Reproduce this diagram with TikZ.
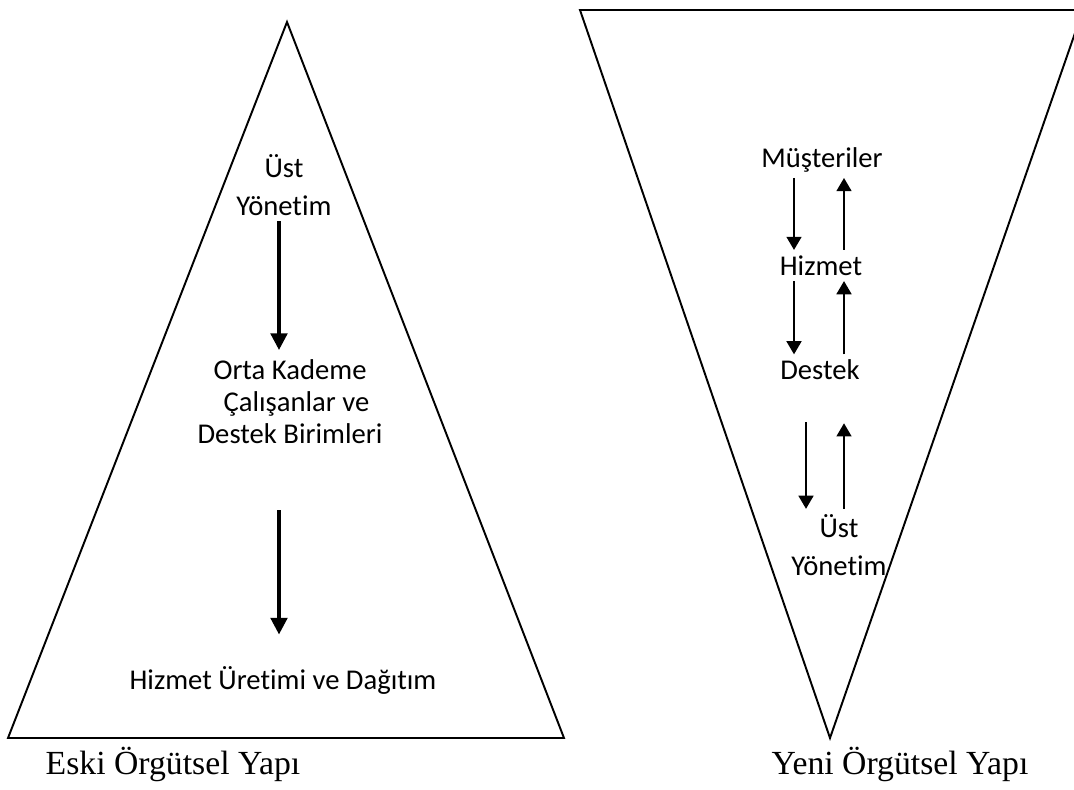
\documentclass[tikz,border=0pt]{standalone}
\usepackage{fontspec}
\usepackage{tikz}
\usetikzlibrary{arrows.meta}
\newfontfamily\calibri{Carlito}[Ligatures=CommonOff]
\newfontfamily\timesnr{Liberation Serif}
\tikzstyle{lbl} =
[
	font=\calibri\fontsize{16.3pt}{21.6pt}\selectfont,
	inner sep=3pt, align=center
]
\tikzstyle{capt} =
[
	font=\timesnr\fontsize{19.2pt}{22pt}\selectfont,
	inner sep=0pt, anchor=base
]
\tikzstyle{tri} = [draw, line width=1.1pt]
\tikzstyle{bigarrow} = [-{Triangle[width=9.5pt,length=9.5pt]}, line width=1.9pt]
\tikzstyle{smallarrow} = [-{Triangle[width=8.5pt,length=7.5pt]}, line width=1.1pt]

\begin{document}
\begin{tikzpicture}[x=0.02cm,y=-0.02cm]
\useasboundingbox (0,0) rectangle (1074,789);
\clip (0,0) rectangle (1074,789);

% old structure
\draw[tri] (287,22) -- (564,738) -- (8,738) -- cycle;
\coordinate (cL) at (279,0);

\node[lbl] (UY) at (284,185) {Üst\\Yönetim};
\node[lbl, font=\calibri\fontsize{16.3pt}{18.2pt}\selectfont] (OK) at (290,402)
	{Orta Kademe\\\hspace*{0.45em}Çalışanlar ve\\Destek Birimleri};
\node[lbl] (HU) at (283,680) {Hizmet Üretimi ve Dağıtım};

\path
	(UY.south -| cL) edge[bigarrow, shorten >=2.5pt] (OK.north -| cL)
	(OK.south -| cL) edge[bigarrow, shorten <=34.5pt, shorten >=14.8pt] (HU.north -| cL);

\node[capt] (eski) at (173,774) {Eski Örgütsel Yapı};

% new structure
\draw[tri] (580,10) -- (1083,10) -- (830,738) -- cycle;
\coordinate (cR1) at (794,0);
\coordinate (cR2) at (844,0);
\coordinate (cR3) at (806,0);

\node[lbl] (M) at (822,160) {Müşteriler};
\node[lbl] (H) at (821,265.5) {Hizmet};
\node[lbl] (D) at (820,370) {Destek};
\node[lbl] (UY2) at (839,545) {Üst\\Yönetim};

\path
	(M.south -| cR1) edge[smallarrow] (H.north -| cR1)
	(H.north -| cR2) edge[smallarrow] (M.south -| cR2)
	(H.south -| cR1) edge[smallarrow] (D.north -| cR1)
	(D.north -| cR2) edge[smallarrow] (H.south -| cR2)
	(D.south -| cR3) edge[smallarrow, shorten <=20.9pt] (UY2.north -| cR3)
	(UY2.north -| cR2) edge[smallarrow, shorten >=21.4pt] (D.south -| cR2);

\node[capt] (yeni) at (900,774) {Yeni Örgütsel Yapı};

\end{tikzpicture}
\end{document}
